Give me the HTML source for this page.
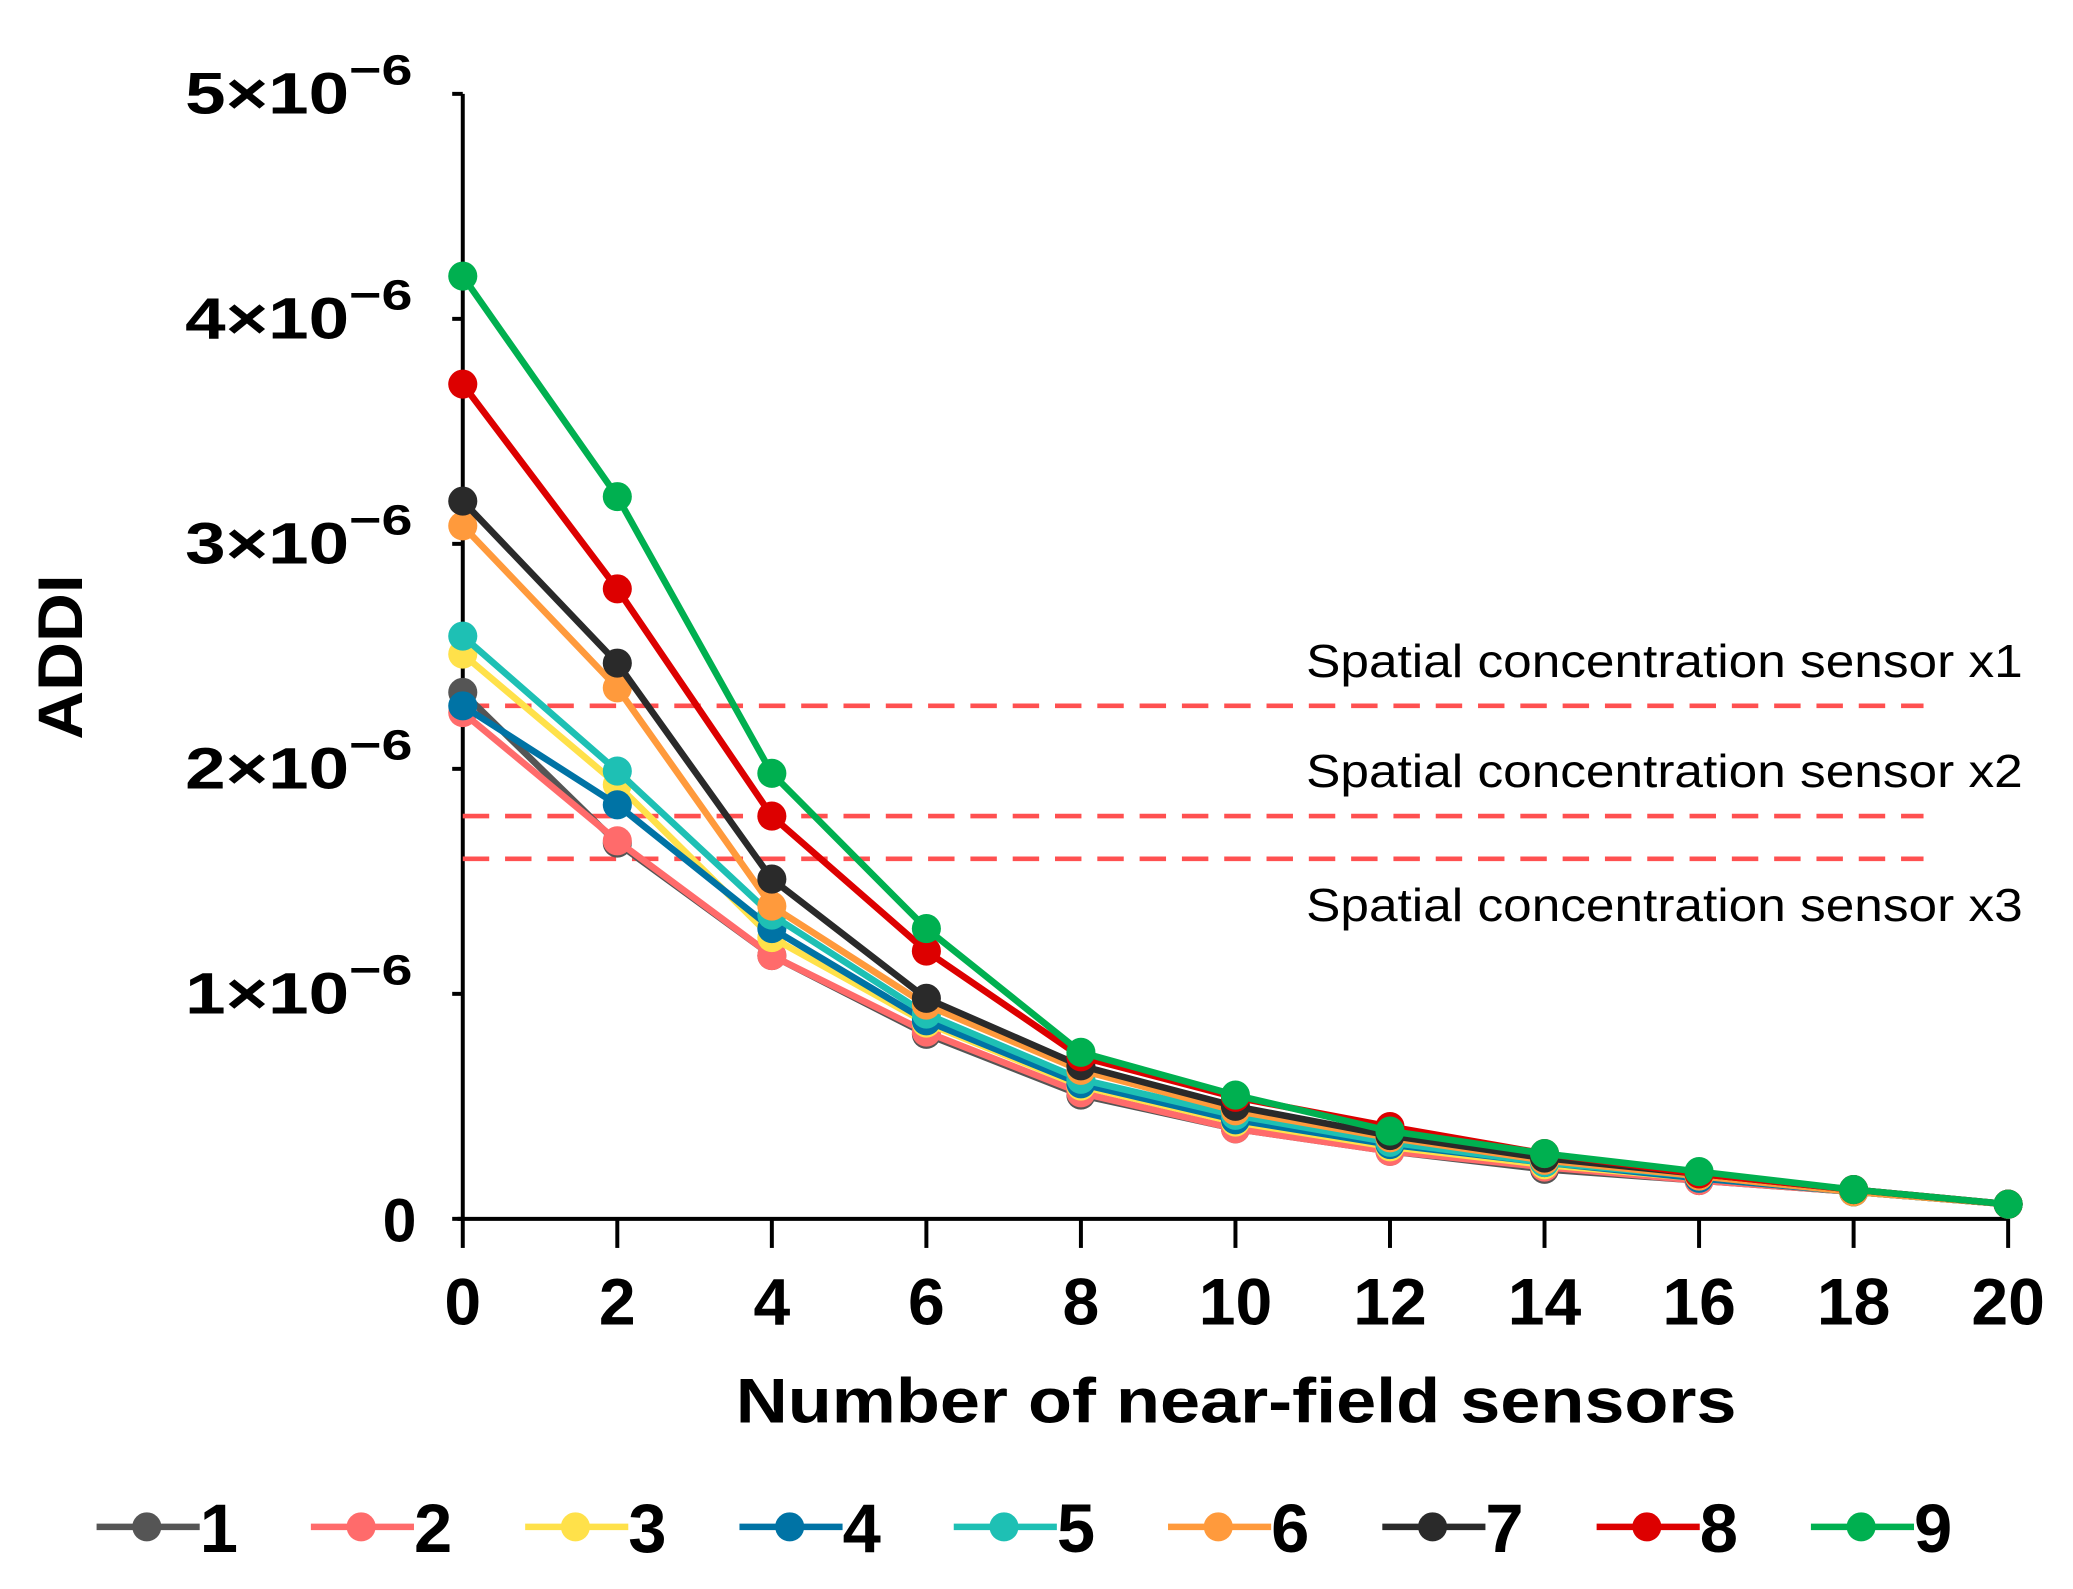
<!DOCTYPE html>
<html><head><meta charset="utf-8"><style>
html,body{margin:0;padding:0;background:#fff}
svg{display:block;font-family:"Liberation Sans",Arial,sans-serif}
</style></head><body>
<svg id="chart" width="2073" height="1589" viewBox="0 0 1568 1202" xmlns="http://www.w3.org/2000/svg">
<g id="axes"></g><g id="refs"></g><g id="series"></g><g id="legend"></g>
</svg>
<script>
const xValues=[0,2,4,6,8,10,12,14,16,18,20];
const yTicks=[0,1,2,3,4,5];
const seriesNames=["1","2","3","4","5","6","7","8","9"];
const seriesColors=["#555555","#ff6b6b","#ffe14a","#0073a5","#1ec0b4","#ff9a3c","#2a2a2a","#dd0000","#00b050"];
const s1=[2.34,1.67,1.17,0.82,0.55,0.40,0.30,0.22,0.17,0.12,0.065];
const s2=[2.25,1.68,1.17,0.83,0.56,0.40,0.30,0.23,0.17,0.12,0.065];
const s3=[2.51,1.93,1.25,0.87,0.59,0.43,0.32,0.24,0.18,0.12,0.065];
const s4=[2.28,1.84,1.29,0.88,0.60,0.44,0.33,0.25,0.18,0.12,0.065];
const s5=[2.59,1.99,1.35,0.91,0.62,0.46,0.34,0.25,0.19,0.12,0.065];
const s6=[3.08,2.36,1.39,0.95,0.66,0.48,0.36,0.26,0.19,0.12,0.065];
const s7=[3.19,2.47,1.51,0.98,0.68,0.50,0.37,0.27,0.20,0.13,0.065];
const s8=[3.71,2.80,1.79,1.19,0.72,0.54,0.41,0.29,0.20,0.13,0.065];
const s9=[4.19,3.21,1.98,1.29,0.74,0.55,0.39,0.29,0.21,0.13,0.065];
const seriesData=[s1,s2,s3,s4,s5,s6,s7,s8,s9];
const refValues=[2.28,1.79,1.60];
const refLabels=["Spatial concentration sensor x1","Spatial concentration sensor x2","Spatial concentration sensor x3"];
const NS="http://www.w3.org/2000/svg";
const X0=350,X1=1519,Y0=922,Y1=71;
const xs=v=>X0+(v-0)/(20-0)*(X1-X0);
const ys=v=>Y0-(v/5)*(Y0-Y1);
function mk(parent,tag,attrs,text){const e=document.createElementNS(NS,tag);for(const k in attrs)e.setAttribute(k,attrs[k]);if(text!==undefined)e.textContent=text;parent.appendChild(e);return e;}
const axes=document.getElementById('axes');
let e=mk(axes,'line',{x1:X0,y1:Y1,x2:X0,y2:Y0,stroke:'#000','stroke-width':3});


e=mk(axes,'line',{x1:X0-4,y1:Y0,x2:X1,y2:Y0,stroke:'#000','stroke-width':3});


yTicks.forEach(t=>{
  mk(axes,'line',{x1:X0-8,y1:ys(t),x2:X0,y2:ys(t),stroke:'#000','stroke-width':3});
  let tx;
  if(t===0){tx=mk(axes,'text',{x:315,y:ys(t)+17,'text-anchor':'end','font-size':46,'font-weight':'bold'},'0');}
  else{tx=mk(axes,'text',{x:140,y:ys(t)+15,'font-size':44,'font-weight':'bold'});
    mk(tx,'tspan',{textLength:124,lengthAdjust:'spacingAndGlyphs'},t+'×10');
    mk(tx,'tspan',{dy:-22,'font-size':32,textLength:48,lengthAdjust:'spacingAndGlyphs'},'−6');}
  
  
});
xValues.forEach(v=>{
  mk(axes,'line',{x1:xs(v),y1:Y0,x2:xs(v),y2:Y0+22,stroke:'#000','stroke-width':3});
  const t=mk(axes,'text',{x:xs(v),y:1002,'text-anchor':'middle','font-size':50,'font-weight':'bold'},String(v));
  
  
});
e=mk(axes,'text',{x:935,y:1076,'text-anchor':'middle','font-size':48,'font-weight':'bold',textLength:757,lengthAdjust:'spacingAndGlyphs'},'Number of near-field sensors');


e=mk(axes,'text',{x:62,y:497,'text-anchor':'middle','font-size':48,'font-weight':'bold',textLength:125,lengthAdjust:'spacingAndGlyphs',transform:'rotate(-90 62 497)'},'ADDI');


const refs=document.getElementById('refs');
const labOff=[-22,-22,47];
refValues.forEach((v,i)=>{
  const l=mk(refs,'line',{x1:X0,y1:ys(v),x2:1455,y2:ys(v),stroke:'#ff5050','stroke-width':3.5,'stroke-dasharray':'20 12'});
  
  
  const t=mk(refs,'text',{x:988,y:ys(v)+labOff[i],'font-size':35,textLength:542,lengthAdjust:'spacingAndGlyphs'},refLabels[i]);
  
  
});
const sg=document.getElementById('series');
seriesData.forEach((d,i)=>{
  const g=mk(sg,'g',{});
  
  
  const p=mk(g,'polyline',{points:d.map((v,j)=>xs(xValues[j])+','+ys(v)).join(' '),fill:'none',stroke:seriesColors[i],'stroke-width':5,'stroke-linejoin':'round'});
  
  
  d.forEach((v,j)=>{
    const c=mk(g,'circle',{cx:xs(xValues[j]),cy:ys(v),r:11,fill:seriesColors[i]});
    
    
  });
});
const lg=document.getElementById('legend');
seriesNames.forEach((n,i)=>{
  const x=73+i*162.1,y=1155;
  const g=mk(lg,'g',{});
  
  
  mk(g,'line',{x1:x,y1:y,x2:x+78,y2:y,stroke:seriesColors[i],'stroke-width':5});
  mk(g,'circle',{cx:x+38,cy:y,r:11,fill:seriesColors[i]});
  mk(g,'text',{x:x+78,y:y+19,'font-size':52,'font-weight':'bold'},n);
});
</script>
</body></html>
